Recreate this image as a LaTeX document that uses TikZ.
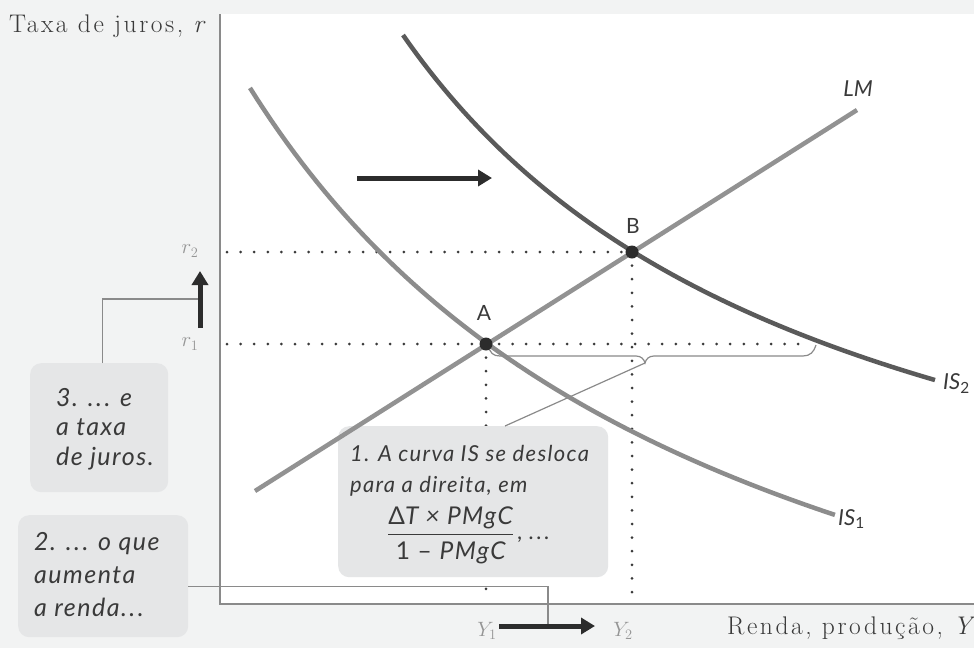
\documentclass[tikz,border=0pt]{standalone}
\usepackage{fontspec}
\newfontfamily\lato{Lato}
\newfontfamily\notesans{Lato}[LetterSpace=6]
\newfontfamily\axserif{Latin Modern Roman}[LetterSpace=10]
\usetikzlibrary{arrows.meta}
\definecolor{bg}{HTML}{F2F3F3}
\definecolor{boxfill}{HTML}{E5E6E7}
\definecolor{lmcol}{HTML}{929292}
\definecolor{is1col}{HTML}{8C8C8C}
\definecolor{is2col}{HTML}{5A5A5A}
\definecolor{axiscol}{HTML}{8A8A8A}
\definecolor{dotcol}{HTML}{3A3A3A}
\definecolor{arrcol}{HTML}{2C2C2C}
\definecolor{labcol}{HTML}{959595}
\definecolor{txtcol}{HTML}{3A3A3A}
\newcommand\notefonta{\notesans\itshape\fontsize{22}{31}\selectfont}
\newcommand\notefontb{\notesans\itshape\fontsize{25}{29.5}\selectfont}
\newcommand\notefontc{\notesans\itshape\fontsize{25}{33}\selectfont}
\newcommand\fracfont{\notesans\upshape\fontsize{24.5}{26}\selectfont}
\newcommand\curvefont{\lato\itshape\fontsize{22}{24}\selectfont}
\newcommand\ptfont{\lato\fontsize{21}{24}\selectfont}
\newcommand\axfont{\axserif\fontsize{25.5}{27}\selectfont}
\newcommand\tickfont{\fontsize{21}{22}\selectfont}
\newcommand\ellip{.\kern2.5pt.\kern2.5pt.}
\tikzset{
  curveline/.style={line width=4.5pt},
  dotline/.style={draw=dotcol, line width=3pt, line cap=round, dash pattern=on 0pt off 13.6pt},
  fatarrow/.style={draw=arrcol, line width=5pt, -{Triangle[length=14pt,width=16pt]}},
  leader/.style={draw=axiscol, line width=1.2pt},
  axisline/.style={draw=axiscol, line width=2pt},
  notebox/.style={fill=boxfill, rounded corners=11pt, draw=none, inner sep=0pt, anchor=north west},
  notetext/.style={inner sep=0pt, align=left, text=txtcol, anchor=north west},
  curvelab/.style={inner sep=0pt, font=\curvefont, text=txtcol},
  ptlab/.style={inner sep=0pt, font=\ptfont, text=txtcol},
  axlab/.style={inner sep=0pt, font=\axfont, text=txtcol},
  ticklab/.style={inner sep=0pt, font=\tickfont, text=labcol},
  eqdot/.style={circle, fill=arrcol, minimum size=13pt, inner sep=0pt}
}
\begin{document}
\begin{tikzpicture}[x=1pt,y=-1pt]
\useasboundingbox (0,0) rectangle (974,648);
\fill[bg] (0,0) rectangle (974,648);
\fill[white] (220,14) rectangle (974,604);

% key coordinates
\coordinate (yaxtop) at (220,14);
\coordinate (origin) at (220,604);
\coordinate (xaxend) at (974,604);
\coordinate (pA) at (486,344);
\coordinate (pB) at (632,252);
\coordinate (r2start) at (227,252);
\coordinate (r1start) at (227,344);
\coordinate (r1end) at (800,344);
\coordinate (y1foot) at (486,600);
\coordinate (y2foot) at (632,600);
\coordinate (lmstart) at (255,491);
\coordinate (lmend) at (857,110);
\coordinate (rarrS) at (200,328);
\coordinate (rarrE) at (200,271);
\coordinate (rmid) at (200,299);
\coordinate (yarrS) at (499,626);
\coordinate (yarrE) at (595,626);
\coordinate (ymid) at (548,626);
\coordinate (shiftS) at (357,178);
\coordinate (shiftE) at (492,178);
\coordinate (braceL) at (488,345);
\coordinate (braceTip) at (645,363);
\coordinate (braceR) at (816,345);

% boxes
\node[notebox, minimum width=170pt, minimum height=122pt] (box2) at (18,515) {};
\node[notebox, minimum width=138pt, minimum height=129pt] (box3) at (30,363) {};

% connectors from boxes
\draw[leader] ([yshift=-10pt]box2.east) -| (ymid);
\draw[leader] ([xshift=3pt]box3.north) |- (rmid);

% axes
\draw[axisline] (yaxtop) -- (origin) -- (xaxend);

% dotted guides
\draw[dotline] (r2start) -- (pB);
\draw[dotline] (r1start) -- (r1end);
\draw[dotline] (pA) -- (y1foot);
\draw[dotline] (pB) -- (y2foot);

% brace and leader
\draw[leader] (braceL) .. controls (490,353) and (493,356) .. (500,356) -- (636,356)
  .. controls (641,356) and (644,359) .. (braceTip)
  .. controls (646,359) and (649,356) .. (654,356) -- (803,356)
  .. controls (810,356) and (814,352) .. (braceR);

% box 1
\node[notebox, minimum width=270pt, minimum height=151pt] (box1) at (338,426) {};
\draw[leader] (braceTip) -- ([xshift=167pt]box1.north west);

% curves
\draw[curveline, lmcol] (lmstart) -- (lmend);
\draw[curveline, is1col] plot[domain=4.929:10.779, samples=80] ({100*\x-242.9},{874.7-3877.9/\x});
\draw[curveline, is2col] plot[domain=4.377:9.697, samples=80] ({100*\x-34.7},{663.9-2752.5/\x});

% equilibrium points
\node[eqdot] (dotA) at (pA) {};
\node[eqdot] (dotB) at (pB) {};
\node[ptlab] (labA) at (484,313) {A};
\node[ptlab] (labB) at (633,226) {B};

% curve labels
\node[curvelab] (labLM) at (858,89) {LM};
\node[curvelab, anchor=west] (labIS2) at (943,384) {IS\textsubscript{\upshape 2}};
\node[curvelab, anchor=west] (labIS1) at (838,519) {IS\textsubscript{\upshape 1}};

% arrows
\draw[fatarrow] (shiftS) -- (shiftE);
\draw[fatarrow] (rarrS) -- (rarrE);
\draw[fatarrow] (yarrS) -- (yarrE);

% axis labels
\node[axlab, anchor=base west] (ylab) at (9,32) {Taxa de juros, \itshape r};
\node[axlab, anchor=base east] (xlab) at (972,634) {Renda, produção, \itshape Y};
\node[ticklab] (r2lab) at (190,251) {$r_2$};
\node[ticklab] (r1lab) at (190,344) {$r_1$};
\node[ticklab] (y1lab) at (487,631) {$Y_1$};
\node[ticklab] (y2lab) at (623,631) {$Y_2$};

% box texts
\node[notetext, font=\notefonta] (box1text) at (350,445) {1. A curva IS se desloca\\para a direita, em\\[10pt]\hspace*{37pt}$\displaystyle{\hbox{\fracfont Δ\itshape T × PMgC}\above1.4pt\hbox{\fracfont 1 – \itshape PMgC\rule{0pt}{20pt}}}$\,, \ellip};
\node[notetext, font=\notefontb] (box3text) at (56,388) {3. \ellip{} e\\a taxa\\de juros.};
\node[notetext, font=\notefontc] (box2text) at (34,532) {2. \ellip{} o que\\aumenta\\a renda\ellip};
\end{tikzpicture}
\end{document}
